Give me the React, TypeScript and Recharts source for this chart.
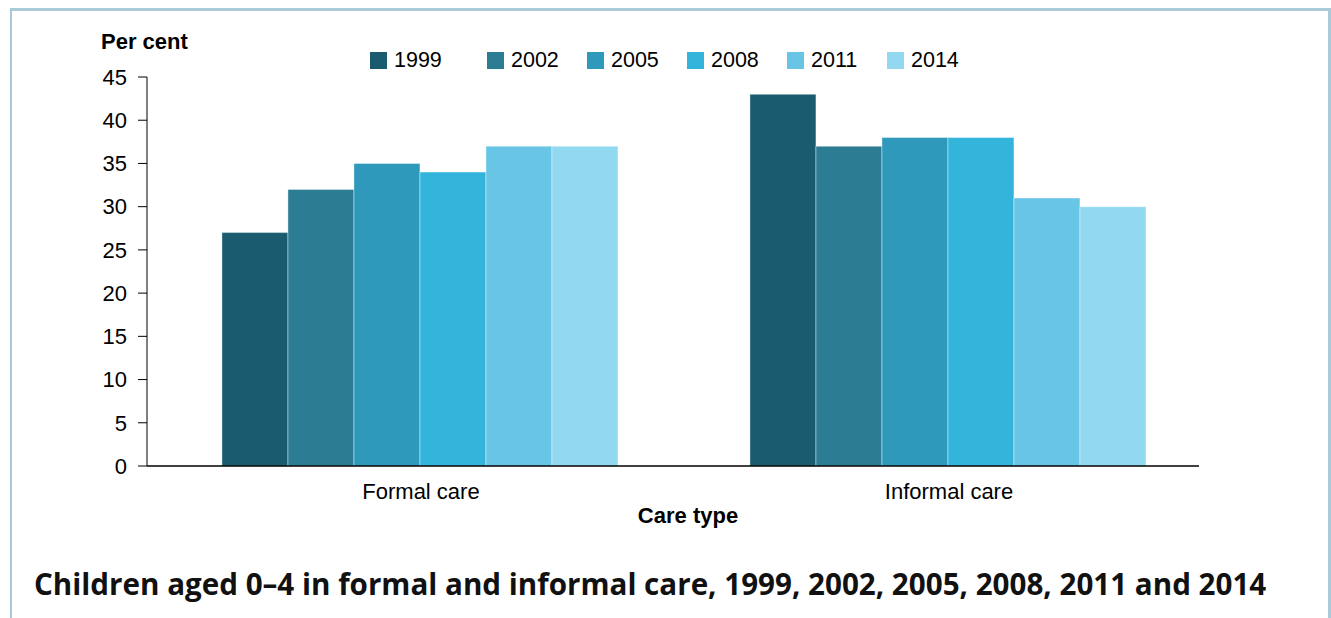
import React from 'react';
import { BarChart, Bar, XAxis, YAxis, ReferenceLine } from 'recharts';

const categories = ['Formal care', 'Informal care'];
const years = ['1999', '2002', '2005', '2008', '2011', '2014'];
const v1999 = [27, 43];
const v2002 = [32, 37];
const v2005 = [35, 38];
const v2008 = [34, 38];
const v2011 = [37, 31];
const v2014 = [37, 30];
const yTicks = [0, 5, 10, 15, 20, 25, 30, 35, 40, 45];
const colors = ['#1a5b70', '#2c7d94', '#2f99bb', '#32b4db', '#69c5e6', '#92d8f0'];

const seriesValues = [v1999, v2002, v2005, v2008, v2011, v2014];
const data = categories.map((c, i) => {
  const row: Record<string, string | number> = { category: c, pos: i };
  years.forEach((y, k) => {
    row[y] = seriesValues[k][i];
  });
  return row;
});

const FONT = '"Liberation Sans", Arial, sans-serif';

export default function App() {
  return (
    <div style={{ position: 'absolute', left: 0, top: 0, width: 1331, height: 618, background: '#fff', overflow: 'hidden' }}>
      <div
        style={{
          position: 'absolute',
          left: 10,
          top: 8,
          width: 1316,
          height: 640,
          borderTop: '3px solid #a9cad8',
          borderLeft: '2px solid #a9cad8',
          borderRight: '3px solid #a9cad8',
        }}
      />
      <div
        style={{
          position: 'absolute',
          left: 101,
          top: 29,
          fontFamily: FONT,
          fontWeight: 'bold',
          fontSize: 22,
          color: '#000',
          lineHeight: '26px',
        }}
      >
        Per cent
      </div>
      <div
        style={{
          position: 'absolute',
          left: 370,
          top: 47,
          display: 'flex',
          fontFamily: FONT,
          fontSize: 21.5,
          color: '#000',
          lineHeight: '26px',
        }}
      >
        {years.map((y, i) => (
          <div key={y} style={{ display: 'flex', alignItems: 'center', width: i === 0 ? 117 : 100 }}>
            <div style={{ width: 17, height: 17, background: colors[i], marginRight: 7 }} />
            <span>{y}</span>
          </div>
        ))}
      </div>
      <div style={{ position: 'absolute', left: 0, top: 0 }}>
        <BarChart
          width={1331}
          height={540}
          data={data}
          margin={{ top: 77, right: 118, bottom: 12, left: 87 }}
          barCategoryGap="12.3%"
          barGap={0}
        >
          <XAxis
            dataKey="category"
            padding={{ left: 10, right: 0 }}
            tickLine={false}
            axisLine={false}
            tickSize={6}
            tickMargin={11}
            height={62}
            stroke="#000"
            tick={{ fill: '#000', fontSize: 22, fontFamily: FONT }}
            label={{
              value: 'Care type',
              position: 'insideBottom',
              offset: 5,
              dx: 8,
              fill: '#000',
              fontSize: 22,
              fontWeight: 'bold',
              fontFamily: FONT,
            }}
          />
          <XAxis
            xAxisId="line"
            dataKey="pos"
            type="number"
            domain={[0, 1066]}
            allowDataOverflow
            hide
          />
          <YAxis
            domain={[0, 45]}
            ticks={yTicks}
            interval={0}
            width={60}
            tickSize={9}
            tickMargin={11}
            stroke="#000"
            tick={{ fill: '#000', fontSize: 22, fontFamily: FONT }}
          />
          {years.map((y, i) => (
            <Bar key={y} dataKey={y} fill={colors[i]} stroke="#ffffff" strokeWidth={0.4} isAnimationActive={false} />
          ))}
          <ReferenceLine
            xAxisId="line"
            segment={[
              { x: 0, y: 0 },
              { x: 1052, y: 0 },
            ]}
            stroke="#000"
            strokeWidth={1.3}
          />
        </BarChart>
      </div>
      <div
        style={{
          position: 'absolute',
          left: 34,
          top: 564,
          fontFamily: '"Open Sans", sans-serif',
          fontWeight: 'bold',
          fontSize: 29.6,
          color: '#111',
          whiteSpace: 'nowrap',
          lineHeight: '40px',
        }}
      >
        Children aged 0–4 in formal and informal care, 1999, 2002, 2005, 2008, 2011 and 2014
      </div>
    </div>
  );
}
